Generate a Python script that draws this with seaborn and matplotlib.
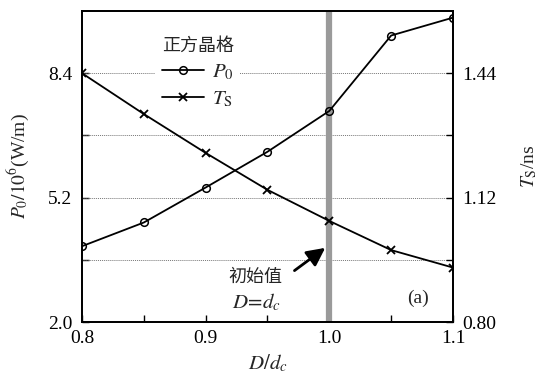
import matplotlib
matplotlib.use("Agg")
import matplotlib.pyplot as plt
from matplotlib.lines import Line2D
import seaborn as sns
import pandas as pd

# Normalized lattice spacing and the two computed quantities
d_ratio = [0.80, 0.85, 0.90, 0.95, 1.00, 1.05, 1.10]
p0_power = [3.95, 4.56, 5.46, 6.38, 7.43, 9.37, 9.83]      # 10^6 W/m
ts_time = [1.44, 1.335, 1.235, 1.14, 1.06, 0.985, 0.94]     # ns

x_ticks = [0.80, 0.85, 0.90, 0.95, 1.00, 1.05, 1.10]
x_labels = ["0.8", "", "0.9", "", "1.0", "", "1.1"]
left_ticks = [2.0, 3.6, 5.2, 6.8, 8.4]
left_labels = ["2.0", "", "5.2", "", "8.4"]
right_ticks = [0.80, 0.96, 1.12, 1.28, 1.44]
right_labels = ["0.80", "", "1.12", "", "1.44"]

sns.set_style("ticks")
plt.rcParams["font.family"] = ["Liberation Serif", "Noto Sans CJK SC", "DejaVu Sans"]
plt.rcParams["mathtext.fontset"] = "stix"
plt.rcParams["axes.unicode_minus"] = False

df = pd.DataFrame({"d": d_ratio, "p0": p0_power, "ts": ts_time})

fig = plt.figure(figsize=(5.38, 3.80), dpi=100)
ax = fig.add_axes([0.1524, 0.1526, 0.842 - 0.1524, 0.971 - 0.1526])
ax2 = ax.twinx()

# dotted horizontal guides at the left-axis ticks
for yv in left_ticks[1:]:
    ax.axhline(yv, color="#777777", lw=0.7, ls=(0, (1, 1)), zorder=1)

# initial value marker line
ax.axvline(1.0, color="#9a9a9a", lw=4.5, zorder=2)

sns.lineplot(data=df, x="d", y="p0", ax=ax, color="black", lw=1.3,
             marker="o", markersize=5.5, markerfacecolor="none",
             markeredgecolor="black", markeredgewidth=1.1, zorder=3)
sns.lineplot(data=df, x="d", y="ts", ax=ax2, color="black", lw=1.3,
             marker="x", markersize=6, markeredgecolor="black",
             markeredgewidth=1.3, zorder=3)

ax.set_xlim(0.8, 1.1)
ax.set_ylim(2.0, 10.0)
ax2.set_ylim(0.80, 1.60)

ax.set_xticks(x_ticks)
ax.set_xticklabels(x_labels)
ax.set_yticks(left_ticks)
ax.set_yticklabels(left_labels)
ax2.set_yticks(right_ticks)
ax2.set_yticklabels(right_labels)

for a in (ax, ax2):
    a.tick_params(direction="in", length=5, width=1.0, labelsize=14,
                  colors="black", pad=7)
    for s in a.spines.values():
        s.set_linewidth(1.3)
        s.set_color("black")
        s.set_visible(True)
ax.tick_params(axis="x", pad=6)

ax.set_xlabel(r"$D/d_c$", fontsize=15, labelpad=4)
ax.set_ylabel(r"$P_0/10^6$(W/m)", fontsize=14, labelpad=12)
ax2.set_ylabel(r"$T_{\rm S}$/ns", fontsize=14, labelpad=16, rotation=90)

handles = [
    Line2D([], [], color="black", lw=1.3, marker="o", markersize=5.5,
           markerfacecolor="none", markeredgewidth=1.1),
    Line2D([], [], color="black", lw=1.3, marker="x", markersize=6,
           markeredgewidth=1.3),
]
leg = ax2.legend(handles, [r"$P_0$", r"$T_{\rm S}$"], title="正方晶格",
                 loc="upper left", bbox_to_anchor=(0.17, 0.97),
                 frameon=True, fontsize=15, title_fontsize=13,
                 handlelength=2.0, handletextpad=0.4, labelspacing=0.35,
                 borderpad=0.3, framealpha=1.0)
leg.get_frame().set_edgecolor("none")
leg.get_frame().set_facecolor("white")
leg.get_title().set_family(["Noto Sans CJK SC"])

ax.annotate("", xy=(0.9985, 3.95), xytext=(0.970, 3.28),
            arrowprops=dict(arrowstyle="-|>,head_length=1.1,head_width=0.55",
                            color="black", lw=2.0), zorder=5)
ax.text(0.940, 3.15, "初始值", ha="center", va="center", fontsize=13,
        family=["Noto Sans CJK SC"], zorder=5)
ax.text(0.941, 2.51, r"$D\!=\!d_c$", ha="center", va="center", fontsize=15,
        zorder=5)
ax.text(1.0716, 2.61, "(a)", ha="center", va="center", fontsize=14,
        zorder=5)

fig.savefig("out.png", dpi=100)
